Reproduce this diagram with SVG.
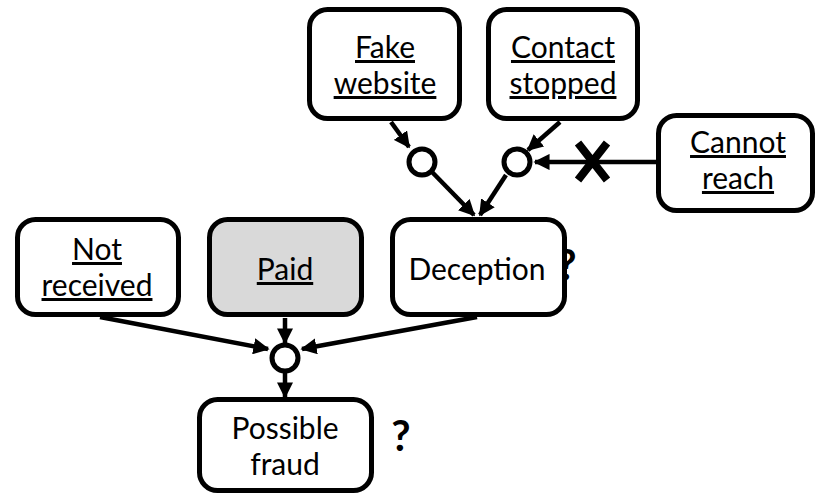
<svg xmlns="http://www.w3.org/2000/svg" width="817" height="496" viewBox="0 0 817 496">
<defs>
<style>
.box{fill:#fff;stroke:#000;stroke-width:5}
.grey{fill:#d9d9d9}
.t{font-family:Lato,"Open Sans","Liberation Sans",sans-serif;font-size:30px;fill:#000;text-anchor:middle}
.u{text-decoration:underline}
.q{font-family:Lato,"Liberation Sans",sans-serif;font-size:42px;font-weight:bold;fill:#000;text-anchor:middle}
.c{stroke:#000;stroke-width:4.5;fill:none}
.j{fill:#fff;stroke:#000;stroke-width:5}
</style>
<marker id="ah" viewBox="0 0 10 10" refX="9" refY="5" markerWidth="3.6" markerHeight="3.6" orient="auto" markerUnits="strokeWidth">
<path d="M0,0 L10,5 L0,10 z" fill="#000"/>
</marker>
</defs>
<text class="q" x="567" y="280">?</text>
<g id="connectors">
<line class="c" x1="391" y1="122" x2="409" y2="147" marker-end="url(#ah)"/>
<line class="c" x1="432" y1="172" x2="474" y2="215" marker-end="url(#ah)"/>
<line class="c" x1="560" y1="122" x2="528" y2="150" marker-end="url(#ah)"/>
<line class="c" x1="506" y1="175" x2="480" y2="215" marker-end="url(#ah)"/>
<line class="c" x1="656" y1="162" x2="535" y2="162" marker-end="url(#ah)"/>
<line class="c" x1="100" y1="317" x2="268" y2="349" marker-end="url(#ah)"/>
<line class="c" x1="285" y1="318" x2="285" y2="343" marker-end="url(#ah)"/>
<line class="c" x1="477" y1="317" x2="302" y2="349" marker-end="url(#ah)"/>
<line class="c" x1="285" y1="373" x2="285" y2="397" marker-end="url(#ah)"/>
<path d="M578,143 L607,180 M607,143 L578,180" stroke="#000" stroke-width="8" fill="none"/>
</g>
<g id="j1"><circle class="j" cx="422" cy="162" r="13"/></g>
<g id="j2"><circle class="j" cx="517" cy="162" r="13"/></g>
<g id="j3"><circle class="j" cx="285" cy="358" r="13"/></g>
<g id="fake"><rect class="box" x="309.5" y="9.5" width="150" height="109" rx="18"/>
<text class="t u"><tspan x="385" y="58">Fake</tspan><tspan x="385" y="94">website</tspan></text></g>
<g id="contact"><rect class="box" x="488.5" y="9.5" width="149" height="109" rx="18"/>
<text class="t u"><tspan x="563" y="58">Contact</tspan><tspan x="563" y="94">stopped</tspan></text></g>
<g id="cannot"><rect class="box" x="658.5" y="115.5" width="154" height="95" rx="18"/>
<text class="t u"><tspan x="738" y="153">Cannot</tspan><tspan x="738" y="189">reach</tspan></text></g>
<g id="notrec"><rect class="box" x="17.5" y="219.5" width="161" height="95" rx="18"/>
<text class="t u"><tspan x="97" y="260">Not</tspan><tspan x="97" y="296">received</tspan></text></g>
<g id="paid"><rect class="box grey" x="209.5" y="219.5" width="152" height="95" rx="18"/>
<text class="t u" x="285" y="280">Paid</text></g>
<g id="deception"><rect class="box" x="392.5" y="219.5" width="172" height="95" rx="18"/>
<text class="t" x="477" y="280">Deception</text></g>
<g id="fraud"><rect class="box" x="199.5" y="399.5" width="172" height="91" rx="18"/>
<text class="t"><tspan x="285" y="439">Possible</tspan><tspan x="285" y="475">fraud</tspan></text>
<text class="q" x="401" y="451">?</text></g>
</svg>
